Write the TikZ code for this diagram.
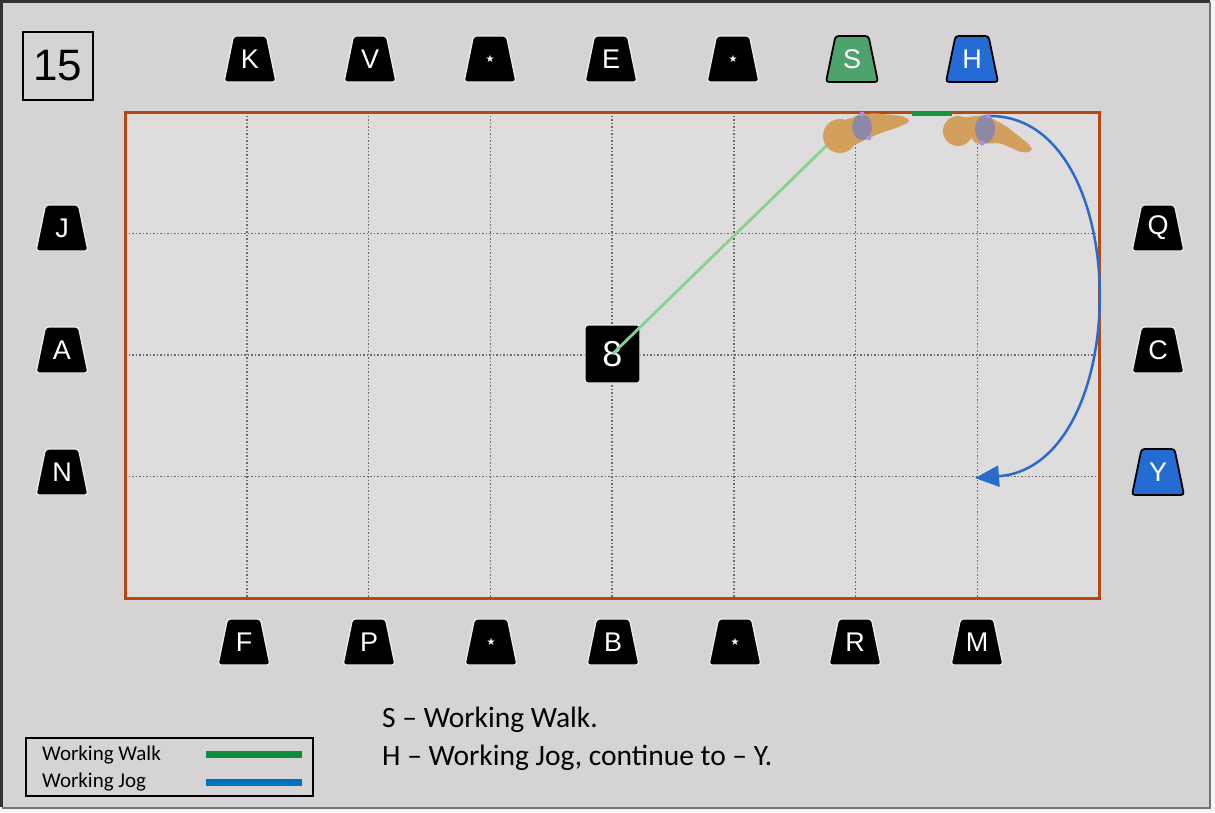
\documentclass[tikz,border=0pt]{standalone}
\usepackage{fontspec}
\setmainfont{Liberation Sans}
\newfontfamily\calibrifont{Carlito}
\newfontfamily\symbolfont{DejaVu Sans}
\usetikzlibrary{arrows.meta}

\definecolor{pagebg}{RGB}{214,211,212}
\definecolor{arenabg}{RGB}{222,220,221}
\definecolor{arenaline}{RGB}{178,74,18}
\definecolor{gridgray}{RGB}{105,105,110}
\definecolor{walkgreen}{RGB}{24,150,64}
\definecolor{walklight}{RGB}{135,210,145}
\definecolor{jogblue}{RGB}{40,108,200}
\definecolor{legblue}{RGB}{0,112,192}
\definecolor{leggreen}{RGB}{16,140,62}
\definecolor{sgreen}{RGB}{78,162,108}
\definecolor{hblue}{RGB}{36,108,212}
\definecolor{horsetan}{RGB}{210,160,92}
\definecolor{ridergray}{RGB}{140,136,165}
\definecolor{riderdot}{RGB}{175,145,225}

\tikzset{
  % trapezoid letter board: fill colour, outline colour, outline width
  mkshape/.style n args={3}{minimum width=57pt, minimum height=51pt,
    inner sep=0pt, fill=pagebg, text=white, font=\fontsize{27}{27}\selectfont,
    path picture={\path[fill=#1, draw=#2, line width=#3, rounded corners=3pt]
      ([shift={(2.5pt,2.5pt)}]path picture bounding box.south west)
      -- ([shift={(-2.5pt,2.5pt)}]path picture bounding box.south east)
      -- ([shift={(-12pt,-2.5pt)}]path picture bounding box.north east)
      -- ([shift={(12pt,-2.5pt)}]path picture bounding box.north west)
      -- cycle;}},
  marker/.style={mkshape={black}{white!85!gray}{1.3pt}},
  greenmarker/.style={mkshape={sgreen}{black}{1.8pt}},
  bluemarker/.style={mkshape={hblue}{black}{1.8pt}},
  starmark/.style={marker, font=\symbolfont\fontsize{10}{10}\selectfont},
  gridline/.style={gridgray, line width=1.5pt, dash pattern=on 1.5pt off 2pt},
  horse/.style={fill=horsetan, rounded corners=4pt},
  rider/.style={fill=ridergray},
  legendtext/.style={font=\calibrifont\fontsize{21}{21}\selectfont, anchor=west, inner sep=0pt},
  notetext/.style={font=\calibrifont\fontsize{29.5}{29.5}\selectfont, anchor=base west, inner sep=0pt},
}

\begin{document}
\begin{tikzpicture}[x=1pt,y=-1pt]
\useasboundingbox (0,0) rectangle (1215,812);

% page and frame
\fill[white!92!gray] (0,0) rectangle (1215,812);
\fill[pagebg] (1.5,1.5) rectangle (1210,807);
\draw[black!80, line width=3pt] (1.5,807) -- (1.5,1.5) -- (1210,1.5);
\draw[black!55, line width=2pt] (1.5,807.5) -- (1210,807.5) -- (1210,1.5);

% test number
\node[draw, line width=2.5pt, minimum width=70pt, minimum height=68pt,
      inner sep=0pt, font=\fontsize{44}{44}\selectfont] (num) at (58,66) {15};

% arena
\fill[arenabg] (125,112) rectangle (1099,598);
\foreach \i in {1,...,7} {
  \draw[gridline] (125+\i*121.75,112) -- (125+\i*121.75,598);
}
\foreach \j in {1,2,3} {
  \draw[gridline] (125,112+\j*121.5) -- (1099,112+\j*121.5);
}
\draw[arenaline, line width=3pt] (125,112) rectangle (1099,598);

% letters on the long sides
\node[marker] (mK) at (250,59) {K};
\node[marker] (mV) at (370,59) {V};
\node[starmark] (mT1) at (490,59) {★};
\node[marker] (mE) at (611,59) {E};
\node[starmark] (mT2) at (733,59) {★};
\node[greenmarker] (mS) at (852,59) {S};
\node[bluemarker] (mH) at (972,59) {H};

\node[marker] (mF) at (244,642) {F};
\node[marker] (mP) at (369,642) {P};
\node[starmark] (mB1) at (491,642) {★};
\node[marker] (mB) at (613,642) {B};
\node[starmark] (mB2) at (735,642) {★};
\node[marker] (mR) at (855,642) {R};
\node[marker] (mM) at (977,642) {M};

% letters on the short sides
\node[marker] (mJ) at (62,228) {J};
\node[marker] (mA) at (62,350) {A};
\node[marker] (mN) at (62,472) {N};
\node[marker] (mQ) at (1158,228) {Q};
\node[marker] (mC) at (1158,350) {C};
\node[bluemarker] (mY) at (1158,472) {Y};

% centre marker
\node[fill=black, draw=white!85!gray, line width=1.2pt, rounded corners=3pt,
      minimum width=55pt, minimum height=58pt, inner sep=0pt, text=white,
      font=\fontsize{36}{36}\selectfont] (eight) at (612.5,354) {8};

% path points
\coordinate (sPt) at (857,116);
\coordinate (walkA) at (912,114);
\coordinate (walkB) at (952,114);
\coordinate (hPt) at (990,116);
\coordinate (yPt) at (975,478);

% walk from the centre to S, then S to H
\draw[walklight, line width=2.8pt] (eight.center) -- (sPt);
\draw[walkgreen, line width=4pt] (walkA) -- (walkB);

% jog from H round to Y
\draw[jogblue, line width=2.5pt, -{Triangle[length=24pt,width=21pt]}]
  (hPt) .. controls (1135,116) and (1135,466) .. (yPt);

% horse and rider at S
\fill[horse] (843,120) -- (872,113) -- (903,116) -- (911,121) -- (899,127)
  -- (878,134) -- (852,146) -- cycle;
\fill[horsetan] (840,136) circle (17pt);
\fill[rider] (862,127) ellipse (10pt and 13pt);
\fill[riderdot] (862,114) circle (2.5pt);
\fill[riderdot] (869,138) circle (2.5pt);

% horse and rider at H
\fill[horse] (960,118) -- (985,115) -- (1006,126) -- (1030,145) -- (1033,151)
  -- (1023,153) -- (1000,143) -- (975,144) -- cycle;
\fill[horsetan] (958,131) circle (15pt);
\fill[rider] (985,129) ellipse (10pt and 14pt);
\fill[riderdot] (988,116) circle (2.5pt);
\fill[riderdot] (982,143) circle (2.5pt);

% legend
\draw[black, line width=2pt] (26,738) rectangle (313,796);
\node[legendtext] (lgWalk) at (42,755) {Working Walk};
\node[legendtext] (lgJog) at (42,782) {Working Jog};
\coordinate (lgWa) at (206,754);
\coordinate (lgWb) at (302,754);
\coordinate (lgJa) at (206,782);
\coordinate (lgJb) at (302,782);
\draw[leggreen, line width=7pt] (lgWa) -- (lgWb);
\draw[legblue, line width=7pt] (lgJa) -- (lgJb);

% instructions
\node[notetext] (noteS) at (382,727) {S – Working Walk.};
\node[notetext] (noteH) at (382,765) {H – Working Jog, continue to – Y.};
\end{tikzpicture}
\end{document}
